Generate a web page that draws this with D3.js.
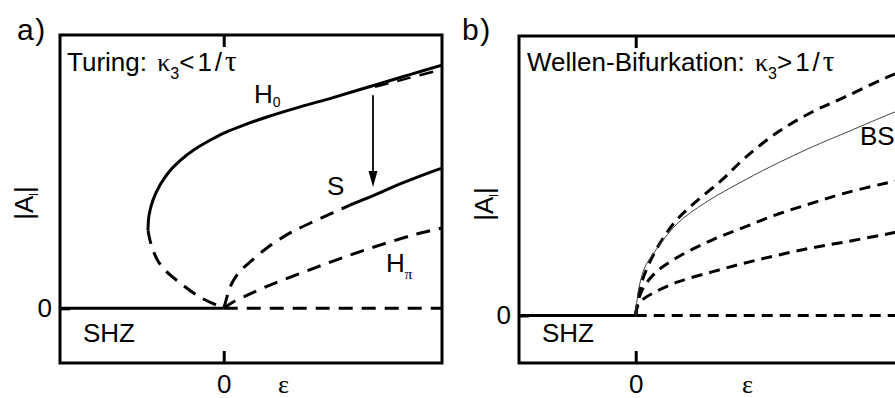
<!DOCTYPE html>
<html>
<head>
<meta charset="utf-8">
<script src="https://cdn.jsdelivr.net/npm/d3@7"></script>
<style>
  html, body { margin: 0; padding: 0; background: #fff; }
  svg { display: block; }
  text { font-family: "Liberation Sans", Arial, Helvetica, sans-serif; fill: #000; }
  .greek { font-family: "Liberation Serif", "DejaVu Serif", serif; }
</style>
</head>
<body>
<svg id="chart" width="895" height="398"></svg>
<script>
// ---------- data: amplitude |A| versus control parameter ε ----------
// panel a) Turing case: subcritical branches
const epsTicks = [0];
const ampTicks = [0];

const h0Stable = [
  [-0.347, 0.286], [-0.342, 0.341], [-0.324, 0.396], [-0.292, 0.451],
  [-0.251, 0.499], [-0.196, 0.543], [-0.136, 0.580], [-0.067, 0.613],
  [0.006, 0.643], [0.098, 0.672], [0.198, 0.700], [0.350, 0.737],
  [0.501, 0.771], [0.702, 0.819], [0.853, 0.855], [1.000, 0.890]
];
const h0Unstable = [
  [-0.347, 0.286], [-0.338, 0.250], [-0.324, 0.213], [-0.301, 0.173],
  [-0.269, 0.140], [-0.200, 0.093], [-0.109, 0.041], [0.000, 0.000]
];
const h0Upper = [[0.693, 0.810], [0.850, 0.843], [1.000, 0.874]];
const sUnstable = [
  [0.000, 0.000], [0.011, 0.030], [0.024, 0.067], [0.043, 0.100],
  [0.075, 0.136], [0.120, 0.169], [0.198, 0.221], [0.304, 0.276],
  [0.427, 0.323], [0.579, 0.378]
];
const sStable = [
  [0.579, 0.378], [0.693, 0.415], [0.808, 0.455], [0.899, 0.484], [1.000, 0.513]
];
const hPi = [
  [0.000, 0.000], [0.043, 0.023], [0.111, 0.049], [0.180, 0.074],
  [0.272, 0.104], [0.427, 0.151], [0.579, 0.195], [0.730, 0.235],
  [0.885, 0.272], [1.000, 0.294]
];
// jump from the upper branch down to S: [ε, |A| start, |A| end]
const jumpArrow = [0.684, 0.780, 0.444];

// panel b) wave bifurcation: supercritical branches
const bTop = [
  [0.000, 0.000], [0.005, 0.038], [0.013, 0.080], [0.028, 0.134],
  [0.062, 0.209], [0.099, 0.270], [0.148, 0.335], [0.212, 0.395],
  [0.325, 0.485], [0.412, 0.564], [0.537, 0.657], [0.665, 0.728],
  [0.789, 0.782], [0.966, 0.860], [1.000, 0.871]
];
const bBS = [
  [0.000, 0.000], [0.005, 0.055], [0.016, 0.116], [0.035, 0.174],
  [0.084, 0.245], [0.159, 0.331], [0.261, 0.403], [0.412, 0.485],
  [0.537, 0.546], [0.665, 0.603], [0.789, 0.653], [0.977, 0.728],
  [1.000, 0.735]
];
const bMid = [
  [0.000, 0.000], [0.008, 0.045], [0.024, 0.091], [0.073, 0.152],
  [0.159, 0.209], [0.288, 0.270], [0.412, 0.317], [0.537, 0.363],
  [0.665, 0.402], [0.789, 0.438], [0.966, 0.478], [1.000, 0.484]
];
const bLow = [
  [0.000, 0.000], [0.005, 0.030], [0.024, 0.055], [0.073, 0.084],
  [0.159, 0.120], [0.288, 0.156], [0.412, 0.188], [0.537, 0.216],
  [0.665, 0.242], [0.789, 0.263], [0.966, 0.295], [1.000, 0.302]
];

// ---------- layout ----------
const svg = d3.select("#chart");
const FS = 26;

const panels = [
  { key: "a", x: d3.scaleLinear().domain([-0.75, 1]).range([60, 442]),
    y: d3.scaleLinear().domain([-0.2, 1]).range([363, 35]),
    dash: "14,9", letter: "a)", letterX: 17, ylabX: 33, shzX: 83, epsX: 278 },
  { key: "b", x: d3.scaleLinear().domain([-0.44, 1]).range([519, 901]),
    y: d3.scaleLinear().domain([-0.17, 1]).range([363, 36]),
    dash: "11,7", letter: "b)", letterX: 462, ylabX: 493, shzX: 542, epsX: 742 }
];

// condition label such as "Turing: κ₃<1/τ"
function conditionLabel(g, x, y, head, rel) {
  const t = g.append("text").attr("x", x).attr("y", y).attr("font-size", FS);
  t.append("tspan").text(head);
  t.append("tspan").attr("class", "greek").attr("dx", 3).text("κ");
  t.append("tspan").attr("font-size", 16).attr("dy", 8).text("3");
  t.append("tspan").attr("dy", -8).attr("letter-spacing", 3).text(rel + "1/");
  t.append("tspan").attr("class", "greek").attr("font-size", 29).text("τ");
}

function drawPanel(p) {
  const g = svg.append("g");
  const [x0, x1] = p.x.range();
  const [yb, yt] = p.y.range();
  const line = d3.line().x(d => p.x(d[0])).y(d => p.y(d[1]))
    .curve(d3.curveCatmullRom.alpha(0.5));

  const plot = g.append("g");
  const path = (data, opts) => plot.append("path")
    .attr("d", line(data)).attr("fill", "none")
    .attr("stroke", opts.color || "#000")
    .attr("stroke-width", opts.w || 3)
    .attr("stroke-dasharray", opts.dash || null)
    .attr("stroke-linejoin", "round");

  // trivial state |A| = 0 : stable for ε<0, unstable for ε>0
  const dom = p.x.domain();
  path([[dom[0], 0], [0, 0]], {});
  path([[0, 0], [dom[1], 0]], { dash: p.dash });

  if (p.key === "a") {
    path(h0Unstable, { dash: p.dash });
    path(h0Stable, {});
    path(h0Upper, { dash: p.dash, w: 2.4 });
    path(sUnstable, { dash: p.dash });
    path(sStable, {});
    path(hPi, { dash: p.dash });

    // jump arrow
    const ax = p.x(jumpArrow[0]);
    const ay0 = p.y(jumpArrow[1]), ay1 = p.y(jumpArrow[2]);
    plot.append("line").attr("x1", ax).attr("x2", ax)
      .attr("y1", ay0).attr("y2", ay1 - 12)
      .attr("stroke", "#000").attr("stroke-width", 1.8);
    plot.append("path")
      .attr("d", `M${ax - 4.5},${ay1 - 16} L${ax + 4.5},${ay1 - 16} L${ax},${ay1} Z`)
      .attr("fill", "#000");

    // branch labels
    const h0 = g.append("text").attr("x", 254).attr("y", 103).attr("font-size", FS);
    h0.append("tspan").text("H");
    h0.append("tspan").attr("font-size", 14).attr("dy", 4).text("0");
    g.append("text").attr("x", 327).attr("y", 195).attr("font-size", FS).text("S");
    const hp = g.append("text").attr("x", 386).attr("y", 272).attr("font-size", FS);
    hp.append("tspan").text("H");
    hp.append("tspan").attr("class", "greek").attr("font-size", 15).attr("dy", 7).text("π");

    conditionLabel(g, 67, 71, "Turing: ", "<");
  } else {
    path(bTop, { dash: p.dash });
    path(bMid, { dash: p.dash });
    path(bLow, { dash: p.dash });
    path(bBS, { w: 1, color: "#444" });

    g.append("text").attr("x", 860).attr("y", 145).attr("font-size", FS).text("BS");

    conditionLabel(g, 527, 71, "Wellen-Bifurkation: ", ">");
  }

  g.append("text").attr("x", p.shzX).attr("y", 342)
    .attr("font-size", FS).text("SHZ");

  // frame
  g.append("rect").attr("x", x0).attr("y", yt)
    .attr("width", x1 - x0).attr("height", yb - yt)
    .attr("fill", "none").attr("stroke", "#000").attr("stroke-width", 3);

  // axes: inward ticks at ε = 0 and |A| = 0
  const axB = d3.axisBottom(p.x).tickValues(epsTicks).tickSize(-12)
    .tickSizeOuter(0).tickPadding(12).tickFormat(d3.format("d"));
  const gb = g.append("g").attr("transform", `translate(0,${yb})`).call(axB);
  const axT = d3.axisTop(p.x).tickValues(epsTicks).tickSize(-12)
    .tickSizeOuter(0).tickFormat("");
  const gt = g.append("g").attr("transform", `translate(0,${yt})`).call(axT);
  const axL = d3.axisLeft(p.y).tickValues(ampTicks).tickSize(-10)
    .tickSizeOuter(0).tickPadding(8).tickFormat(d3.format("d"));
  const gl = g.append("g").attr("transform", `translate(${x0},0)`).call(axL);
  [gb, gt, gl].forEach(a => {
    a.select(".domain").remove();
    a.selectAll("line").attr("stroke", "#000").attr("stroke-width", 3);
    a.selectAll("text").attr("font-size", FS)
      .attr("font-family", "Liberation Sans, Arial, sans-serif").attr("fill", "#000");
  });

  // axis titles
  g.append("text").attr("class", "greek").attr("x", p.epsX).attr("y", 393)
    .attr("font-size", 26).text("ε");
  const yl = g.append("text")
    .attr("transform", `translate(${p.ylabX},${p.key === "a" ? 203 : 204}) rotate(-90)`)
    .attr("text-anchor", "middle").attr("font-size", FS);
  yl.append("tspan").text("|A");
  yl.append("tspan").attr("font-size", 12).attr("dy", 5).text("l");
  yl.append("tspan").attr("dy", -5).text("|");

  // panel letter
  svg.append("text").attr("x", p.letterX).attr("y", 40)
    .attr("font-size", 30).attr("letter-spacing", 1.5).text(p.letter);
}

panels.forEach(drawPanel);
</script>
</body>
</html>
